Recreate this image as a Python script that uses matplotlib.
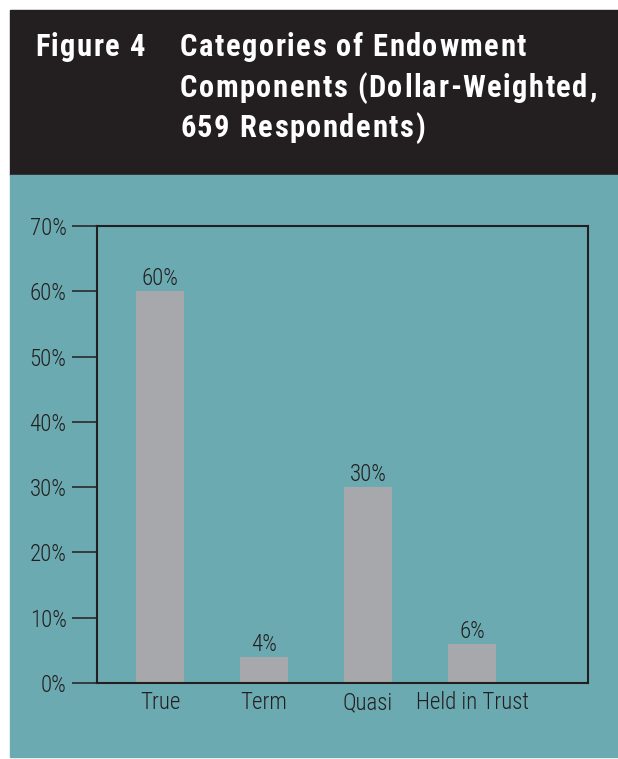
import matplotlib.pyplot as plt
import numpy as np
from matplotlib.ticker import FuncFormatter

categories = ["True", "Term", "Quasi", "Held in Trust"]
shares = [60, 4, 30, 6]
yticks = [0, 10, 20, 30, 40, 50, 60, 70]
title_lines = [("Figure 4", 35, 56),
               ("Categories of Endowment", 180, 56),
               ("Components (Dollar-Weighted,", 180, 97),
               ("659 Respondents)", 180, 137)]

TEAL = "#6caab2"
BAR = "#a7a8ac"
DARK = "#231f20"
FONT = ["Roboto Condensed", "DejaVu Sans"]

plt.rcParams["font.family"] = FONT

W, H = 618, 759
fig = plt.figure(figsize=(W / 100, H / 100), dpi=100)
renderer = fig.canvas.get_renderer()

# background panels
fig.patches.append(plt.Rectangle((10 / W, 1 - 175 / H), 608 / W, 165 / H,
                                 transform=fig.transFigure, color=DARK, zorder=-5))
fig.patches.append(plt.Rectangle((10 / W, 2 / H), 608 / W, (759 - 175 - 2) / H,
                                 transform=fig.transFigure, color=TEAL, zorder=-5))


def spaced_text(s, x_px, y_px, spacing=3.0, **kw):
    # matplotlib has no letter-spacing, so place characters one by one
    x = x_px
    for ch in s:
        t = fig.text(x / W, 1 - y_px / H, ch, va="baseline", ha="left", **kw)
        if ch == " ":
            t.set_text("")
            probe = fig.text(0, 0, "x x", **kw)
            probe2 = fig.text(0, 0, "xx", **kw)
            w = (probe.get_window_extent(renderer).width
                 - probe2.get_window_extent(renderer).width)
            probe.remove()
            probe2.remove()
        else:
            w = t.get_window_extent(renderer).width
        x += w + spacing


tkw = dict(color="white", fontsize=22, fontweight="bold")
for s, xp, yp in title_lines:
    spaced_text(s, xp, yp, spacing=1.5, **tkw)

ax = fig.add_axes([97 / W, 1 - 683 / H, (588 - 97) / W, (683 - 226) / H])
ax.patch.set_alpha(0)

x = np.arange(len(categories))
ax.bar(x, shares, width=0.46, color=BAR, zorder=2)
for xi, v in zip(x, shares):
    ax.annotate(f"{v}%", (xi, v), xytext=(0, 4.5), textcoords="offset points",
                ha="center", va="baseline", fontsize=16.5, color=DARK,
                fontweight="light")

ax.set_xlim(-0.606, 4.115)
ax.set_ylim(0, 70)
ax.set_yticks(yticks)
ax.yaxis.set_major_formatter(FuncFormatter(lambda v, p: f"{int(v)}%"))
ax.set_xticks(x)
ax.set_xticklabels(categories)
ax.tick_params(axis="y", length=18, width=1.1, color=DARK, labelsize=16.5,
               labelcolor=DARK, pad=4)
ax.tick_params(axis="x", length=0, labelsize=16.5, labelcolor=DARK, pad=6)
for lab in ax.get_xticklabels() + ax.get_yticklabels():
    lab.set_fontweight("light")
for s in ax.spines.values():
    s.set_color(DARK)
    s.set_linewidth(1.5)

fig.savefig("out.png", dpi=100)
